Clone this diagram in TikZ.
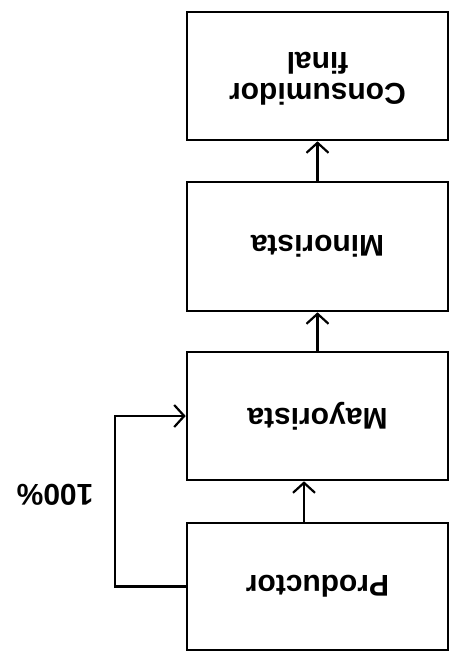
\documentclass[tikz,border=0pt]{standalone}
\usepackage{fontspec}
\setmainfont{Liberation Sans}
\usetikzlibrary{arrows.meta}
\begin{document}
\begin{tikzpicture}[x=1pt,y=-1pt,
  box/.style={draw, line width=2.6pt, minimum width=261pt, inner sep=0pt},
  lbl/.style={rotate=180, font=\bfseries\fontsize{30}{31}\selectfont, align=center, inner sep=0pt},
  conn/.style={line width=2.2pt, -{Straight Barb[length=10pt,width=22pt,line width=2.2pt]}}]
\path[use as bounding box] (0,0) rectangle (454,661);
\node[box, minimum height=128pt] (cons) at (317.5,76) {};
\node[box, minimum height=129pt] (mino) at (317.5,246.5) {};
\node[box, minimum height=128pt] (mayo) at (317.5,416) {};
\node[box, minimum height=127pt] (prod) at (317.5,586.5) {};
\node[lbl] (tcons) at ([yshift=-3pt]cons.center) {Consumidor\\final};
\node[lbl] (tmino) at (mino.center) {Minorista};
\node[lbl] (tmayo) at (mayo.center) {Mayorista};
\node[lbl] (tprod) at (prod.center) {Productor};
\node[lbl] (pct) at (55,495) {100\%};
\draw[conn] (mino.north) -- (cons.south);
\draw[conn] (mayo.north) -- (mino.south);
\draw[conn] ([xshift=-13.5pt]prod.north) -- ([xshift=-13.5pt]mayo.south);
\draw[conn] (prod.west) -- ++(-71,0) |- (mayo.west);
\end{tikzpicture}
\end{document}
